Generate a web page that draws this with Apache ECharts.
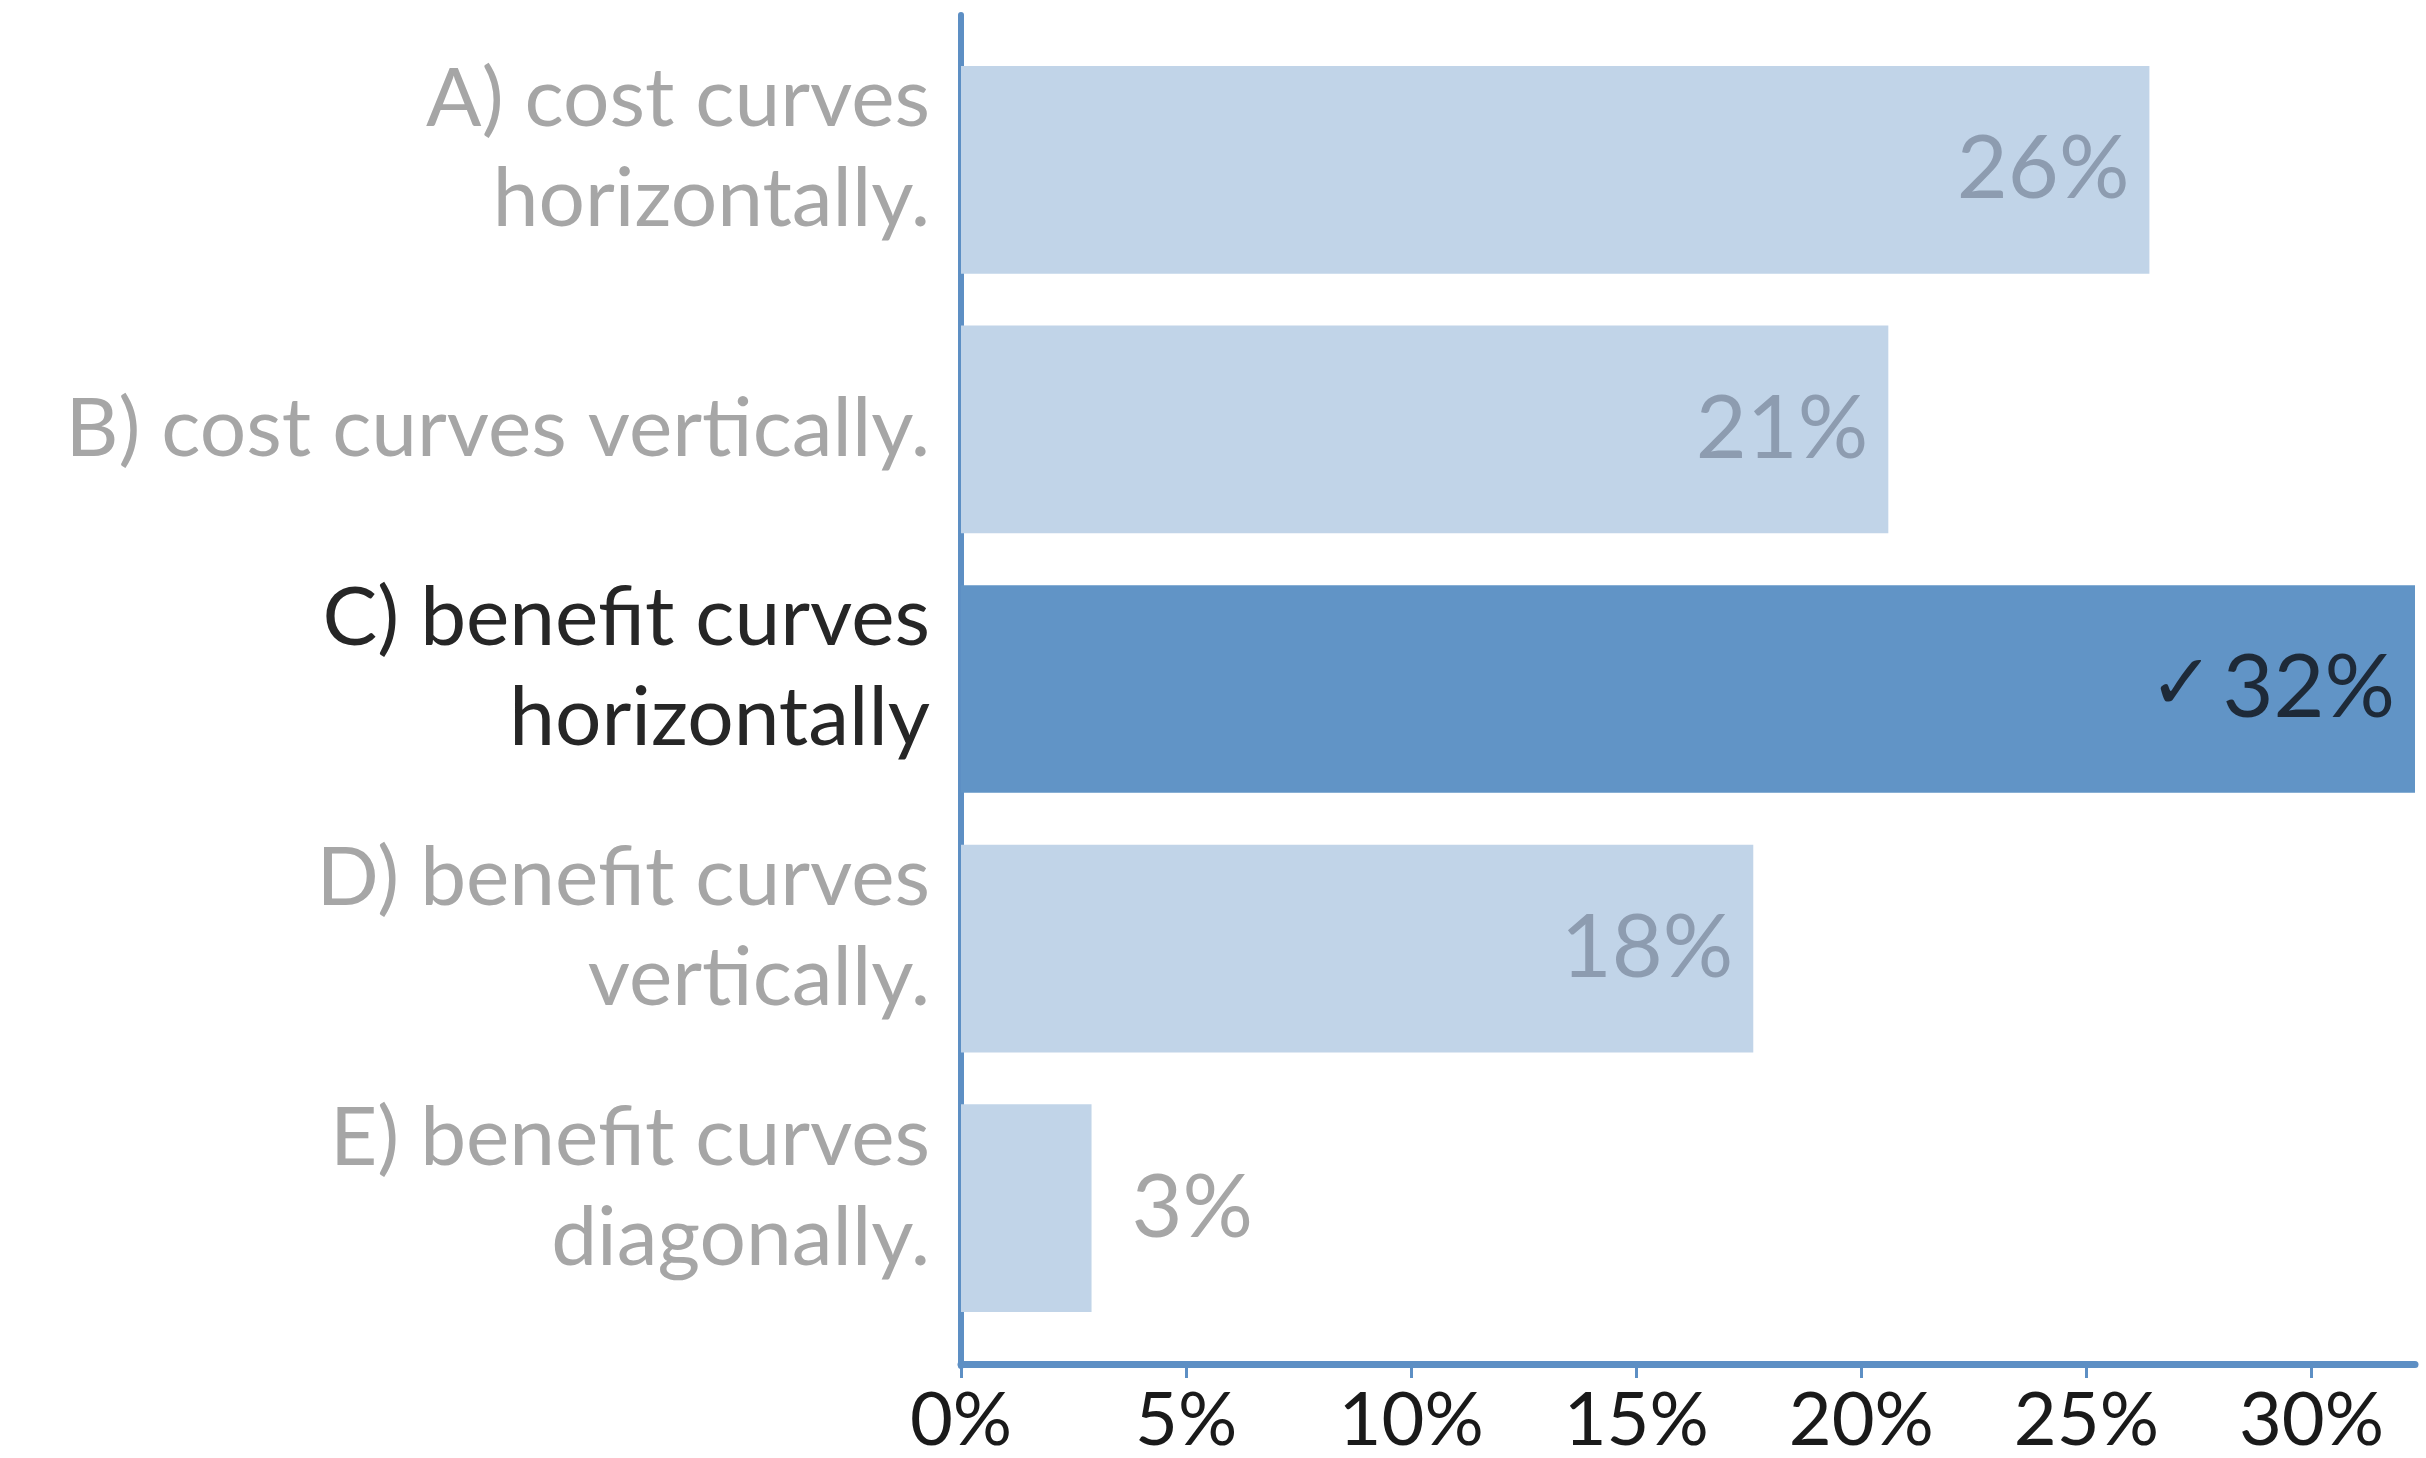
<!DOCTYPE html>
<html>
<head>
<meta charset="utf-8">
<script src="https://cdn.jsdelivr.net/npm/echarts@6/dist/echarts.min.js"></script>
<style>
html,body{margin:0;padding:0;background:#fff;}
#chart{width:2426px;height:1458px;}
</style>
</head>
<body>
<div id="chart"></div>
<script>
const categories = [
  "A) cost curves\nhorizontally.",
  "B) cost curves vertically.",
  "C) benefit curves\nhorizontally",
  "D) benefit curves\nvertically.",
  "E) benefit curves\ndiagonally."
];
const values = [26.4, 20.6, 32.3, 17.6, 2.9];
const valueLabels = ["26%", "21%", "32%", "18%", "3%"];
const correctIndex = 2;
const xTicks = [0, 5, 10, 15, 20, 25, 30];

const FONT = 'Lato, "Noto Sans", sans-serif';
const AXIS_COLOR = '#5d8fc4';
const GRAY = '#a6a6a6';
const DARK = '#262626';

const data = values.map((v, i) => {
  const isCorrect = i === correctIndex;
  const outside = v < 6;
  return {
    value: v,
    itemStyle: { color: isCorrect ? '#6194c6' : '#c1d4e8' },
    label: {
      show: true,
      position: outside ? 'right' : 'insideRight',
      distance: outside ? 40 : 20,
      formatter: isCorrect ? '{c|✓}{v|' + valueLabels[i] + '}' : valueLabels[i],
      color: isCorrect ? '#1e2a38' : (outside ? '#a6a6a6' : '#8d9cb0'),
      fontSize: 88,
      fontFamily: FONT,
      rich: {
        c: { fontSize: 78, fontWeight: 'bold', color: '#1e2a38', fontFamily: '"DejaVu Sans", sans-serif', padding: [0, 8, 0, 0] },
        v: { fontSize: 88, color: '#1e2a38', fontFamily: FONT }
      }
    }
  };
});

const labelRich = {
  g: { color: GRAY, fontSize: 82, lineHeight: 100, fontFamily: FONT, align: 'right' },
  d: { color: DARK, fontSize: 82, lineHeight: 100, fontFamily: FONT, align: 'right' },
  s: { fontSize: 10, lineHeight: 40, align: 'right' }
};

const chart = echarts.init(document.getElementById('chart'), null, { renderer: 'canvas' });
chart.setOption({
  animation: false,
  backgroundColor: '#ffffff',
  grid: [
    { left: 961, right: 11, top: 40, bottom: 118, containLabel: false },
    { left: 961, width: 1, top: 15, bottom: 92, containLabel: false }
  ],
  xAxis: [
    {
      gridIndex: 0,
      type: 'value',
      min: 0,
      max: values[correctIndex],
      interval: 5,
      offset: 26,
      splitLine: { show: false },
      axisLine: { show: true, lineStyle: { color: AXIS_COLOR, width: 7 } },
      axisTick: { show: true, length: 14, lineStyle: { color: AXIS_COLOR, width: 3 } },
      axisLabel: {
        margin: 20,
        fontSize: 74,
        color: '#1a1a1a',
        fontFamily: FONT,
        showMaxLabel: false,
        formatter: v => (xTicks.indexOf(v) >= 0 ? v + '%' : '')
      }
    },
    {
      gridIndex: 1, type: 'value', show: false
    }
  ],
  yAxis: [
    {
      gridIndex: 0,
      type: 'category',
      inverse: true,
      data: categories,
      axisLine: { show: false },
      axisTick: { show: false },
      axisLabel: {
        margin: 31,
        fontSize: 82,
        lineHeight: 100,
        fontFamily: FONT,
        align: 'right',
        formatter: (val, idx) => {
          const k = idx === correctIndex ? 'd' : 'g';
          const lines = val.split('\n');
          if (lines.length === 1) return '{' + k + '|' + lines[0] + '}';
          return '{' + k + '|' + lines[0] + '}\n{' + k + '|' + lines[1] + '}\n{s| }';
        },
        rich: labelRich
      }
    },
    {
      gridIndex: 1,
      type: 'value',
      min: 0, max: 1,
      axisLine: { show: true, onZero: false, lineStyle: { color: AXIS_COLOR, width: 6 } },
      axisTick: { show: false },
      axisLabel: { show: false },
      splitLine: { show: false }
    }
  ],
  series: [
    {
      type: 'bar',
      xAxisIndex: 0,
      yAxisIndex: 0,
      data: data,
      barCategoryGap: '20%',
      z: 1
    }
  ]
});
</script>
</body>
</html>
